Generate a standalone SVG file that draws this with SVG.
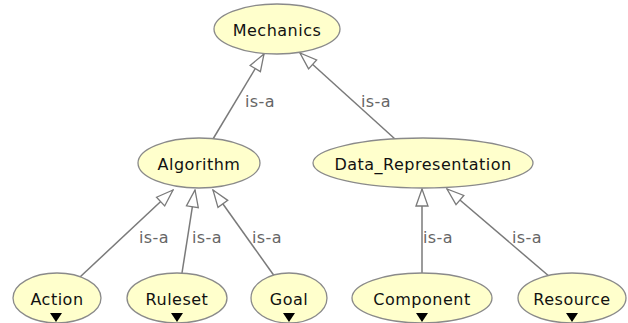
<svg xmlns="http://www.w3.org/2000/svg" width="628" height="323" viewBox="0 0 628 323">
<style>
.node ellipse{fill:#ffffcc;stroke:#8a8a8a;stroke-width:1.3}
.node text{font-family:"DejaVu Sans",sans-serif;font-size:16px;letter-spacing:0.5px;fill:#111;text-anchor:middle}
.node polygon{fill:#000}
.edges line{stroke:#7a7a7a;stroke-width:1.5}
.edges text{font-family:"DejaVu Sans",sans-serif;font-size:16px;letter-spacing:0.4px;fill:#666}
</style>
<defs>
<marker id="tri" markerUnits="userSpaceOnUse" viewBox="-19 -8 20 16" refX="0" refY="0" markerWidth="20" markerHeight="16" orient="auto">
<path d="M-17,-6 L0,0 L-17,6 Z" fill="#fff" stroke="#7a7a7a" stroke-width="1.3" stroke-linejoin="miter"/>
</marker>
</defs>
<rect width="628" height="323" fill="#fff"/>
<g class="edges">
<line x1="213" y1="139" x2="264" y2="54" marker-end="url(#tri)"/>
<line x1="395" y1="139" x2="300" y2="53" marker-end="url(#tri)"/>
<line x1="80" y1="277" x2="173" y2="190" marker-end="url(#tri)"/>
<line x1="182" y1="273" x2="195" y2="190" marker-end="url(#tri)"/>
<line x1="275" y1="277" x2="213" y2="190" marker-end="url(#tri)"/>
<line x1="422" y1="273" x2="422" y2="189" marker-end="url(#tri)"/>
<line x1="550" y1="277" x2="447" y2="189" marker-end="url(#tri)"/>
<text x="245" y="107">is-a</text>
<text x="361" y="107">is-a</text>
<text x="139" y="243">is-a</text>
<text x="192" y="243">is-a</text>
<text x="252" y="243">is-a</text>
<text x="423" y="243">is-a</text>
<text x="512" y="243">is-a</text>
</g>
<g id="Mechanics" class="node"><ellipse cx="277" cy="29" rx="63" ry="25"/><text x="277" y="36">Mechanics</text></g>
<g id="Algorithm" class="node"><ellipse cx="199" cy="163" rx="61" ry="25"/><text x="199" y="170">Algorithm</text></g>
<g id="Data_Representation" class="node"><ellipse cx="423" cy="163" rx="110" ry="25"/><text x="423" y="170">Data_Representation</text></g>
<g id="Action" class="node"><ellipse cx="57" cy="298" rx="44" ry="25"/><text x="57" y="305">Action</text><polygon points="50,313 62,313 56,322"/></g>
<g id="Ruleset" class="node"><ellipse cx="177" cy="298" rx="50" ry="25"/><text x="177" y="305">Ruleset</text><polygon points="171,313 183,313 177,322"/></g>
<g id="Goal" class="node"><ellipse cx="289" cy="298" rx="38" ry="25"/><text x="289" y="305">Goal</text><polygon points="283,313 295,313 289,322"/></g>
<g id="Component" class="node"><ellipse cx="422" cy="298" rx="70" ry="25"/><text x="422" y="305">Component</text><polygon points="416,313 428,313 422,322"/></g>
<g id="Resource" class="node"><ellipse cx="572" cy="298" rx="54" ry="25"/><text x="572" y="305">Resource</text><polygon points="566,313 578,313 572,322"/></g>
</svg>
